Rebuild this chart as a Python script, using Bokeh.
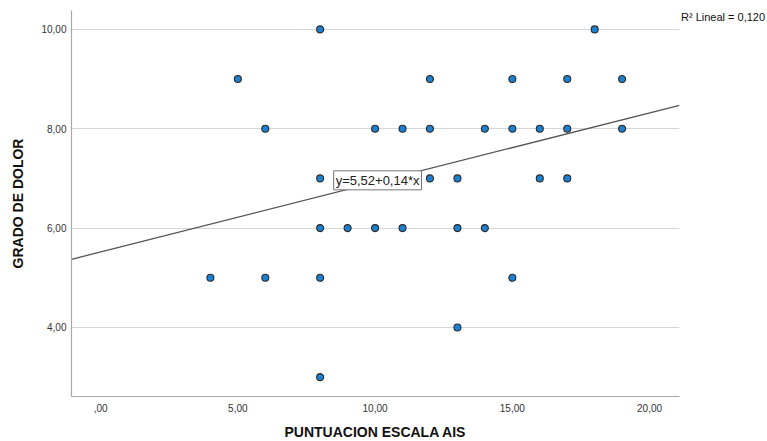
from bokeh.plotting import figure
from bokeh.models import Range1d, FixedTicker, Label, Legend, LegendItem
from bokeh.embed import file_html
from bokeh.resources import INLINE

# data
x_vals = [8, 18,
          5, 12, 15, 17, 19,
          6, 10, 11, 12, 14, 15, 16, 17, 19,
          8, 12, 13, 16, 17,
          8, 9, 10, 11, 13, 14,
          4, 6, 8, 15,
          13,
          8]
y_vals = [10, 10,
          9, 9, 9, 9, 9,
          8, 8, 8, 8, 8, 8, 8, 8, 8,
          7, 7, 7, 7, 7,
          6, 6, 6, 6, 6, 6,
          5, 5, 5, 5,
          4,
          3]
intercept = 5.52
slope = 0.14
r2_text = "R² Lineal = 0,120"
eq_text = "y=5,52+0,14*x"
x_ticks = [0, 5, 10, 15, 20]
x_tick_labels = [",00", "5,00", "10,00", "15,00", "20,00"]
y_ticks = [4, 6, 8, 10]
y_tick_labels = ["4,00", "6,00", "8,00", "10,00"]

FONT = "Liberation Sans"

x0, x1 = -1.06, 21.09
y0, y1 = 2.61, 10.38

p = figure(frame_width=608, frame_height=386, output_backend="svg", toolbar_location=None,
           x_range=Range1d(x0, x1), y_range=Range1d(y0, y1),
           min_border_left=71, min_border_right=88, min_border_top=10, min_border_bottom=45)
p.outline_line_color = None
p.background_fill_color = "white"

# grid
p.xgrid.grid_line_color = None
p.ygrid.grid_line_color = "#d6d6d6"
p.ygrid.grid_line_width = 1.2

# axes
for ax in (p.xaxis[0], p.yaxis[0]):
    ax.axis_line_color = "#a8a8a8"
    ax.axis_line_width = 1.2
    ax.major_tick_line_color = None
    ax.minor_tick_line_color = None
    ax.major_tick_out = 0
    ax.major_tick_in = 0
    ax.major_label_text_font = FONT
    ax.major_label_text_font_size = "10px"
    ax.major_label_text_color = "#333333"
    ax.axis_label_text_font = FONT
    ax.axis_label_text_font_size = "14px"
    ax.axis_label_text_font_style = "bold"
    ax.axis_label_text_color = "#111111"

p.xaxis.ticker = FixedTicker(ticks=x_ticks)
p.xaxis.major_label_overrides = dict(zip(x_ticks, x_tick_labels))
p.yaxis.ticker = FixedTicker(ticks=y_ticks)
p.yaxis.major_label_overrides = dict(zip(y_ticks, y_tick_labels))
p.xaxis.axis_label = "PUNTUACION ESCALA AIS"
p.yaxis.axis_label = "GRADO DE DOLOR"
p.xaxis.major_label_standoff = 7
p.xaxis.axis_label_standoff = 9
p.yaxis.major_label_standoff = 5
p.yaxis.axis_label_standoff = 12

# fit line
fx = [x0, x1]
fy = [intercept + slope * v for v in fx]
p.line(fx, fy, line_color="#555555", line_width=1.3)

# points
p.scatter(x_vals, y_vals, size=7, fill_color="#1c7fd0", line_color="#2a2a2a", line_width=1.1)

# equation label
p.add_layout(Label(x=8.49, y=6.77, text=eq_text, text_font=FONT, text_font_size="13px",
                   text_color="#222222", text_baseline="bottom",
                   border_line_color="#777777", border_line_width=1,
                   background_fill_color="white", padding=2))

# R2 text outside the frame, as a glyph-less legend in the right panel
legend = Legend(items=[LegendItem(label=r2_text, renderers=[])],
                location="top_left", orientation="vertical",
                glyph_width=0, glyph_height=12, label_standoff=2, label_height=14,
                label_text_font=FONT, label_text_font_size="11px", label_text_color="#111111",
                padding=0, margin=0, spacing=0,
                border_line_color=None, background_fill_alpha=0)
p.add_layout(legend, "right")

open("out.html", "w").write(file_html(p, INLINE))
